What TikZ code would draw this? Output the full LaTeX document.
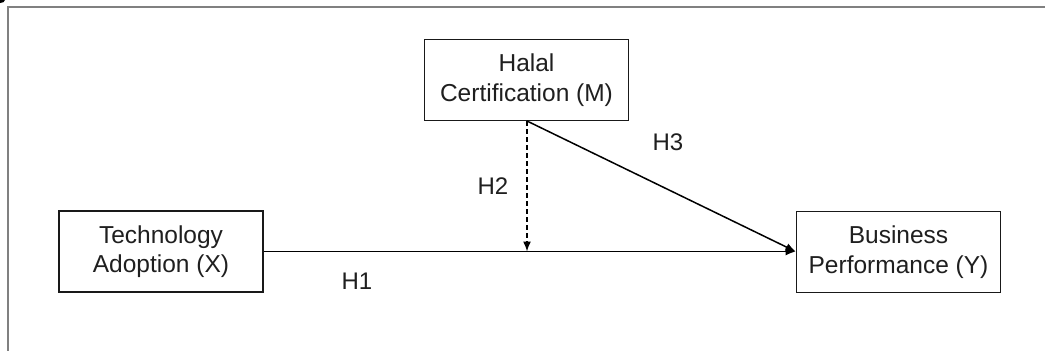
\documentclass[tikz,border=0pt]{standalone}
\usepackage{fontspec}
\setmainfont{Liberation Sans}
\usetikzlibrary{arrows.meta}
\begin{document}
\begin{tikzpicture}[x=1pt,y=-1pt,
  box/.style={draw=black!90, line width=1.8pt, rectangle, minimum width=204pt, minimum height=81pt,
    inner sep=0pt, align=center, text=black!88, font=\fontsize{24.5}{29.5}\selectfont},
  lbl/.style={text=black!88, font=\fontsize{24}{28}\selectfont, inner sep=0pt},
  conn/.style={line width=1.5pt, draw=black},
  tip/.style={-{Latex[length=10pt,width=8pt]}}]
\useasboundingbox (0,0) rectangle (1045,351);
\fill[white] (0,0) rectangle (1045,351);
% outer frame
\draw[gray, line width=2pt] (7.5,351) -- (7.5,6.5) -- (1045,6.5);
\begin{scope}
\clip (0,0) rectangle (1045,351);
\fill[black] (0,0) ellipse (5pt and 3pt);
\end{scope}
% nodes
\node[box] (M) at (526.5,80) {Halal\\Certification (M)};
\node[box] (X) at (161,251.5) {Technology\\Adoption (X)};
\node[box] (Y) at (898.5,252) {Business\\Performance (Y)};
\coordinate (j) at (527,251.5);
\coordinate (ms) at (527,121);
% connectors
\draw[conn, tip] (X.east |- j) -- (Y.west |- j);
\draw[conn, dashed, dash pattern=on 5pt off 3pt, tip] (ms) -- (j);
\draw[conn, tip] (ms) -- (Y.west |- j);
% labels
\node[lbl] (h1) at (357,281) {H1};
\node[lbl] (h2) at (493,186) {H2};
\node[lbl] (h3) at (668,142) {H3};
\end{tikzpicture}
\end{document}
